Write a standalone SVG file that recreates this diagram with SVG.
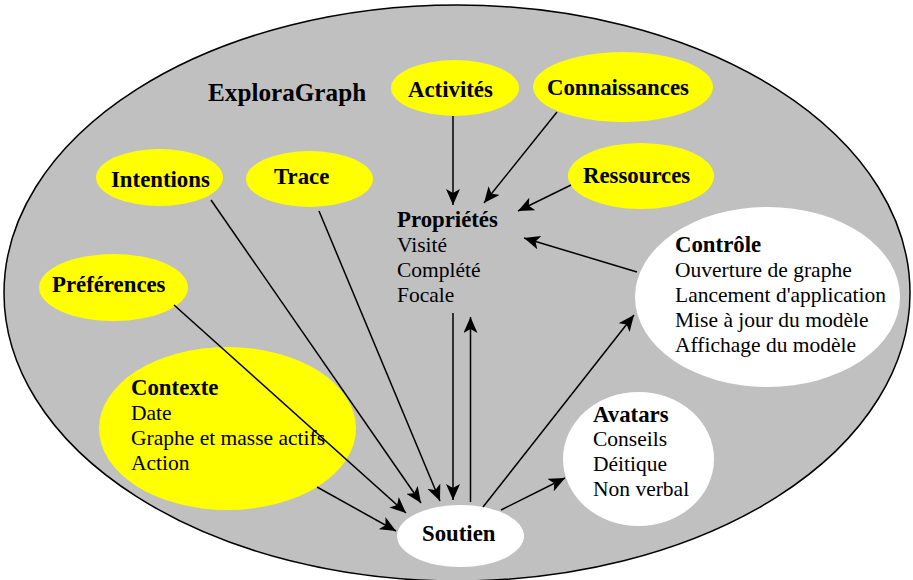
<svg xmlns="http://www.w3.org/2000/svg" width="913" height="580" viewBox="0 0 913 580">
<style>
text{font-family:"Liberation Serif","Times New Roman",serif;fill:#000}
.b{font-weight:bold;font-size:22.8px}
.r{font-size:21.5px}
.y{fill:#FFFF00;stroke:none}
.w{fill:#FFFFFF;stroke:none}
.c{stroke:#000;stroke-width:1.5;fill:none;marker-end:url(#ah)}
</style>
<defs>
<marker id="ah" markerUnits="userSpaceOnUse" markerWidth="18" markerHeight="14" refX="16" refY="7" orient="auto">
<path d="M0,0 L16,7 L0,14 L4,7 z" fill="#000"/>
</marker>
</defs>
<rect width="913" height="580" fill="#fff"/>
<g id="exploragraph">
<ellipse cx="457" cy="293" rx="453" ry="288" fill="#C0C0C0" stroke="#000" stroke-width="1.5"/>
<text class="b" x="208" y="101" style="font-size:25.2px">ExploraGraph</text>
</g>
<g id="activites">
<ellipse class="y" cx="455" cy="88" rx="64" ry="28"/>
<text class="b" x="408" y="97">Activités</text>
</g>
<g id="connaissances">
<ellipse class="y" cx="623" cy="87" rx="90" ry="35"/>
<text class="b" x="547" y="95">Connaissances</text>
</g>
<g id="intentions">
<ellipse class="y" cx="159.5" cy="177.5" rx="63.5" ry="28.5"/>
<text class="b" x="111" y="187">Intentions</text>
</g>
<g id="trace">
<ellipse class="y" cx="309.5" cy="179" rx="63.5" ry="28"/>
<text class="b" x="274" y="184">Trace</text>
</g>
<g id="ressources">
<ellipse class="y" cx="641" cy="176" rx="73" ry="33"/>
<text class="b" x="583" y="183">Ressources</text>
</g>
<g id="preferences">
<ellipse class="y" cx="113.5" cy="287.5" rx="74.5" ry="33.5"/>
<text class="b" x="52" y="292">Préférences</text>
</g>
<g id="proprietes">
<text class="b" x="397" y="227">Propriétés</text>
<text class="r" x="397" y="252">Visité</text>
<text class="r" x="397" y="277">Complété</text>
<text class="r" x="397" y="302">Focale</text>
</g>
<g id="controle">
<ellipse class="w" cx="767.5" cy="297" rx="132.5" ry="90"/>
<text class="b" x="675" y="252">Contrôle</text>
<text class="r" x="675" y="277">Ouverture de graphe</text>
<text class="r" x="675" y="302">Lancement d'application</text>
<text class="r" x="675" y="327">Mise à jour du modèle</text>
<text class="r" x="675" y="352">Affichage du modèle</text>
</g>
<g id="contexte">
<ellipse class="y" cx="227.5" cy="428.5" rx="128.5" ry="81.5"/>
<text class="b" x="131" y="395">Contexte</text>
<text class="r" x="131" y="420">Date</text>
<text class="r" x="131" y="445">Graphe et masse actifs</text>
<text class="r" x="131" y="470">Action</text>
</g>
<g id="avatars">
<ellipse class="w" cx="638.5" cy="459" rx="75.5" ry="67"/>
<text class="b" x="593" y="422">Avatars</text>
<text class="r" x="593" y="446">Conseils</text>
<text class="r" x="593" y="471">Déitique</text>
<text class="r" x="593" y="496">Non verbal</text>
</g>
<g id="soutien">
<ellipse class="w" cx="460.5" cy="536" rx="63.5" ry="31"/>
<text class="b" x="422" y="541">Soutien</text>
</g>
<g id="connectors">
<line class="c" x1="453" y1="116" x2="453" y2="205"/>
<line class="c" x1="557" y1="112" x2="484" y2="203"/>
<line class="c" x1="571" y1="185" x2="518" y2="211"/>
<line class="c" x1="637" y1="272" x2="524" y2="238"/>
<line class="c" x1="211" y1="200" x2="421" y2="503"/>
<line class="c" x1="319" y1="211" x2="440" y2="501"/>
<line class="c" x1="174" y1="305" x2="406" y2="513"/>
<line class="c" x1="317" y1="487" x2="396" y2="531"/>
<line class="c" x1="453" y1="313" x2="453" y2="500"/>
<line class="c" x1="470.5" y1="502" x2="470.5" y2="317"/>
<line class="c" x1="483" y1="507" x2="634" y2="315"/>
<line class="c" x1="501" y1="510" x2="565" y2="478"/>
</g>
</svg>
